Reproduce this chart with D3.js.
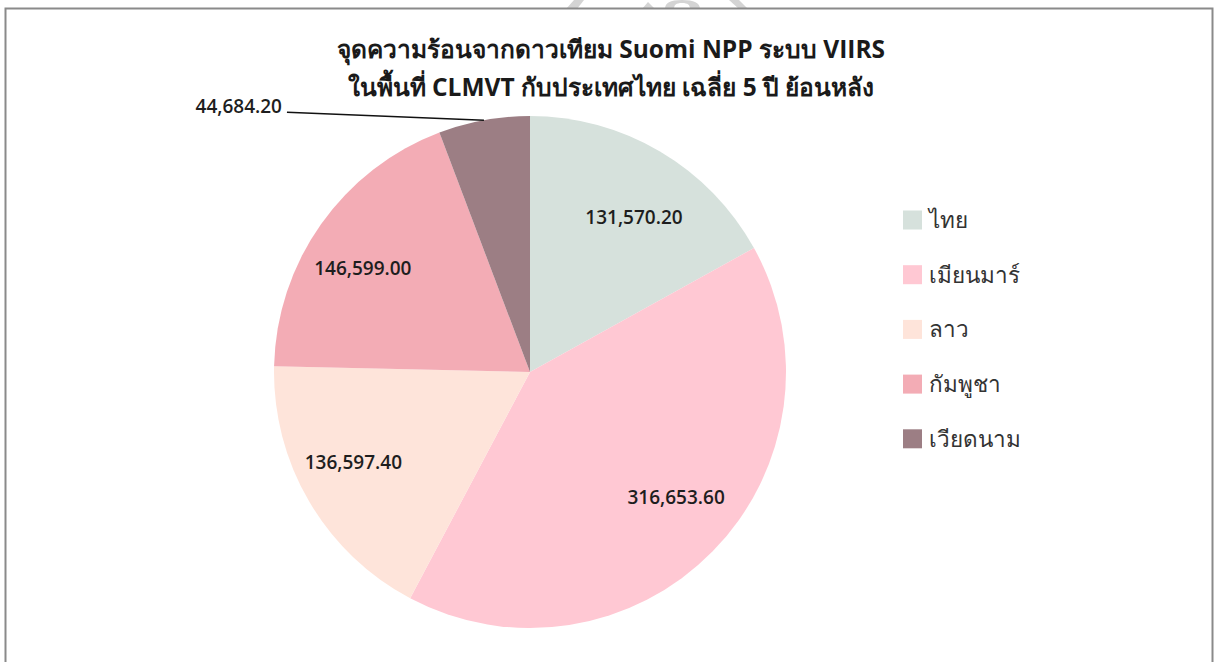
<!DOCTYPE html>
<html>
<head>
<meta charset="utf-8">
<script src="https://cdn.jsdelivr.net/npm/d3@7/dist/d3.min.js"></script>
<style>
  html, body { margin: 0; padding: 0; background: #fff; }
  svg { display: block; }
  text { font-family: "Open Sans", "Noto Sans", "DejaVu Sans", sans-serif; }
</style>
</head>
<body>
<svg id="chart" width="1216" height="662"></svg>
<script>
const titleLines = ["จุดความร้อนจากดาวเทียม Suomi NPP ระบบ VIIRS", "ในพื้นที่ CLMVT กับประเทศไทย เฉลี่ย 5 ปี ย้อนหลัง"];
const categories = ["ไทย", "เมียนมาร์", "ลาว", "กัมพูชา", "เวียดนาม"];
const values = [131570.20, 316653.60, 136597.40, 146599.00, 44684.20];
const colors = ["#D6E1DC", "#FFC8D3", "#FEE4DA", "#F3ACB5", "#9C7E84"];

const svg = d3.select("#chart");

// faint watermark fragments above the frame
const wm = svg.append("g").attr("fill", "#d4d4d4");
wm.append("path").attr("d", "M566,9 L574,0 L584,0 L577,9 Z");
wm.append("path").attr("d", "M642,9 L648,2 L655,9 Z");
wm.append("path").attr("d", "M665,9 C665,3 670,0 682,0 C694,0 700,3 700,9 L690,9 C690,5 688,3 682,3 C676,3 674,5 674,9 Z");
wm.append("path").attr("d", "M729,0 L739,0 L748,9 L739,9 Z");

// frame
svg.append("rect").attr("x", 5.5).attr("y", 8.5).attr("width", 1207).attr("height", 670)
  .attr("fill", "none").attr("stroke", "#8a8a8a").attr("stroke-width", 2);

const cx = 530, cy = 372, R = 256;
const g = svg.append("g").attr("transform", `translate(${cx},${cy})`);

const pie = d3.pie().sort(null).value(d => d);
const arcs = pie(values);
const arc = d3.arc().innerRadius(0).outerRadius(R);

g.selectAll("path.slice").data(arcs).enter().append("path")
  .attr("class", "slice")
  .attr("d", arc)
  .attr("fill", (d, i) => colors[i]);

const fmt = d3.format(",.2f");
const labelStyle = sel => sel.attr("font-size", 19).attr("font-weight", 600).attr("fill", "#1e1e1e");

arcs.forEach((d, i) => {
  const frac = (d.endAngle - d.startAngle) / (2 * Math.PI);
  const mid = (d.startAngle + d.endAngle) / 2;
  if (frac > 0.1) {
    const x = 0.8 * R * Math.sin(mid), y = -0.7 * R * Math.cos(mid);
    g.append("text").attr("x", x).attr("y", y).attr("dy", "0.35em")
      .attr("text-anchor", "middle").call(labelStyle).text(fmt(values[i]));
  } else {
    // outside label with leader line
    const ex = R * Math.sin(mid), ey = -R * Math.cos(mid);
    const lx = ex - 197, ly = ey - 8;
    g.append("polyline")
      .attr("points", `${ex},${ey} ${lx},${ly}`)
      .attr("fill", "none").attr("stroke", "#111").attr("stroke-width", 1.5);
    g.append("text").attr("x", lx - 5).attr("y", ly + 1)
      .attr("text-anchor", "end").call(labelStyle).text(fmt(values[i]));
  }
});

// title
titleLines.forEach((t, i) => {
  svg.append("text").attr("x", 611).attr("y", 58 + i * 38)
    .attr("text-anchor", "middle").attr("font-size", 24.5).attr("font-weight", "bold")
    .attr("fill", "#1a1a1a").text(t);
});

// legend
const legend = svg.append("g");
categories.forEach((c, i) => {
  const y = 220 + i * 54.7;
  legend.append("rect").attr("x", 903).attr("y", y - 9.5).attr("width", 19).attr("height", 19)
    .attr("fill", colors[i]);
  legend.append("text").attr("x", 929).attr("y", y).attr("dy", "0.35em")
    .attr("font-size", 22.5).attr("fill", "#333").text(c);
});
</script>
</body>
</html>
